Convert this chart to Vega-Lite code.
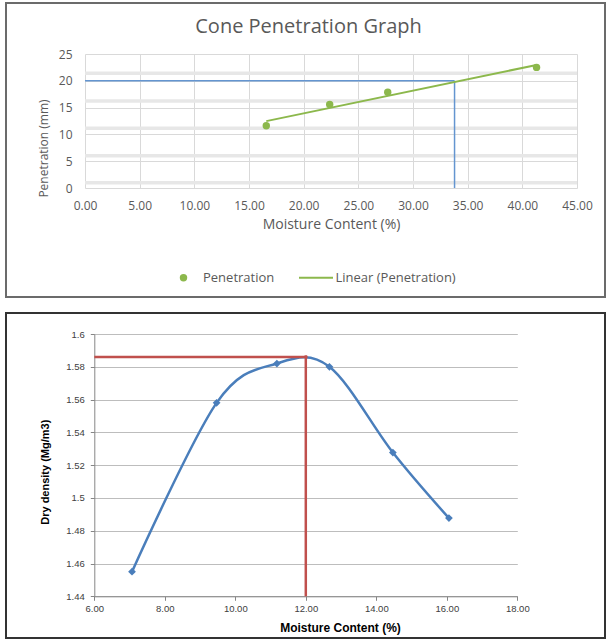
{
  "$schema": "https://vega.github.io/schema/vega-lite/v6.json",
  "padding": {"left": 5, "top": 2, "right": 0, "bottom": 0},
  "background": "white",
  "spacing": 14,
  "datasets": {
    "pen": [
      {"mc": 16.58, "pen": 11.6},
      {"mc": 22.38, "pen": 15.6},
      {"mc": 27.69, "pen": 17.85},
      {"mc": 41.3, "pen": 22.5}
    ],
    "penGuide": [
      {"mc": 0, "mc2": 33.8, "pen": 20, "pen2": 20},
      {"mc": 33.8, "mc2": 33.8, "pen": 0, "pen2": 20}
    ],
    "penBands": [
      {"mc": 0, "mc2": 45, "pen": 0.99},
      {"mc": 0, "mc2": 45, "pen": 6.02},
      {"mc": 0, "mc2": 45, "pen": 11.14},
      {"mc": 0, "mc2": 45, "pen": 16.23},
      {"mc": 0, "mc2": 45, "pen": 21.4}
    ],
    "dd": [
      {"mc": 7.07, "dd": 1.455},
      {"mc": 9.47, "dd": 1.558},
      {"mc": 11.18, "dd": 1.582},
      {"mc": 12.67, "dd": 1.58},
      {"mc": 14.47, "dd": 1.5277},
      {"mc": 16.06, "dd": 1.4877}
    ],
    "ddGuide": [
      {"mc": 6, "mc2": 12.05, "dd": 1.586, "dd2": 1.586},
      {"mc": 12, "mc2": 12, "dd": 1.44, "dd2": 1.587}
    ]
  },
  "vconcat": [
    {
      "width": 599,
      "height": 294,
      "view": {"stroke": "#6b6b6b", "strokeWidth": 2},
      "title": {"text": "Cone Penetration Graph", "offset": -34, "fontSize": 20, "font": "Open Sans", "fontWeight": "normal", "color": "#595959", "anchor": "middle", "frame": "group", "dx": 3},
      "resolve": {"axis": {"x": "independent"}},
      "layer": [
        {
          "data": {"name": "penBands"},
          "mark": {"type": "rule", "color": "#e7e7e7", "strokeWidth": 3.5},
          "encoding": {
            "x": {"field": "mc", "type": "quantitative", "scale": {"domain": [0, 45], "range": [79, 571], "nice": false, "zero": false}, "axis": null},
            "x2": {"field": "mc2"},
            "y": {"field": "pen", "type": "quantitative", "scale": {"domain": [0, 25], "range": [185, 51], "nice": false, "zero": false}}
          }
        },
        {
          "data": {"name": "penGuide"},
          "mark": {"type": "rule", "color": "#6495d0", "strokeWidth": 1.5},
          "encoding": {
            "x": {"field": "mc", "type": "quantitative", "scale": {"domain": [0, 45], "range": [79, 571], "nice": false, "zero": false}, "axis": null},
            "x2": {"field": "mc2"},
            "y": {"field": "pen", "type": "quantitative", "scale": {"domain": [0, 25], "range": [185, 51], "nice": false, "zero": false}},
            "y2": {"field": "pen2"}
          }
        },
        {
          "data": {"name": "pen"},
          "transform": [{"regression": "pen", "on": "mc"}],
          "mark": {"type": "line", "color": "#8CB84C", "strokeWidth": 2},
          "encoding": {
            "x": {"field": "mc", "type": "quantitative", "scale": {"domain": [0, 45], "range": [79, 571], "nice": false, "zero": false},
              "axis": {"orient": "top", "offset": -51, "grid": true, "gridColor": "#d9d9d9", "gridWidth": 1, "domain": false, "ticks": false, "labels": false, "title": null, "values": [0, 5, 10, 15, 20, 25, 30, 35, 40, 45]}},
            "y": {"field": "pen", "type": "quantitative", "scale": {"domain": [0, 25], "range": [185, 51], "nice": false, "zero": false}},
            "color": {"datum": "Linear (Penetration)", "type": "nominal",
              "scale": {"domain": ["Penetration", "Linear (Penetration)"], "range": ["#8CB84C", "#8CB84C"]},
              "legend": {
                "orient": "none", "legendX": 171, "legendY": 268, "direction": "horizontal", "title": null, "padding": 0,
                "labelFont": "Open Sans", "labelFontSize": 13, "labelColor": "#595959", "labelOffset": 13,
                "columnPadding": 19.5,
                "encode": {"symbols": {"update": {
                  "shape": {"signal": "datum.value === 'Penetration' ? 'circle' : 'stroke'"},
                  "size": {"signal": "datum.value === 'Penetration' ? 55 : 1156"},
                  "fill": {"signal": "datum.value === 'Penetration' ? '#8CB84C' : 'transparent'"},
                  "stroke": {"value": "#8CB84C"},
                  "strokeWidth": {"signal": "datum.value === 'Penetration' ? 0 : 2"},
                  "opacity": {"value": 1}
                }}}
              }
            }
          }
        },
        {
          "data": {"name": "pen"},
          "mark": {"type": "point", "filled": true, "size": 55, "opacity": 1},
          "encoding": {
            "x": {"field": "mc", "type": "quantitative", "scale": {"domain": [0, 45], "range": [79, 571], "nice": false, "zero": false},
              "axis": {"orient": "bottom", "offset": -109, "grid": false, "domain": false, "ticks": false, "values": [0, 5, 10, 15, 20, 25, 30, 35, 40, 45], "format": ".2f",
                "labelFont": "Open Sans", "labelFontSize": 12, "labelColor": "#595959", "labelPadding": 12, "labelFlush": false, "labelOverlap": false, "labelBound": false,
                "title": "Moisture Content (%)", "titleFont": "Open Sans", "titleFontSize": 14, "titleFontWeight": "normal", "titleColor": "#595959",
                "titleX": 325, "titleY": 36, "titleBaseline": "middle", "titleAlign": "center"}},
            "y": {"field": "pen", "type": "quantitative", "scale": {"domain": [0, 25], "range": [185, 51], "nice": false, "zero": false},
              "axis": {"orient": "left", "offset": -79, "grid": true, "gridColor": "#d9d9d9", "gridWidth": 1, "domain": false, "ticks": false, "values": [0, 5, 10, 15, 20, 25], "format": "d",
                "labelFont": "Open Sans", "labelFontSize": 12, "labelColor": "#595959", "labelPadding": 13,
                "title": "Penetration (mm)", "titleFont": "Open Sans", "titleFontSize": 12, "titleFontWeight": "normal", "titleColor": "#595959",
                "titleX": -41.5, "titleY": 145, "titleBaseline": "middle", "titleAlign": "center", "titleAngle": 270}},
            "color": {"datum": "Penetration", "type": "nominal"}
          }
        }
      ]
    },
    {
      "width": 599,
      "height": 325,
      "view": {"stroke": "#333333", "strokeWidth": 2},
      "layer": [
        {
          "data": {"name": "dd"},
          "mark": {"type": "line", "interpolate": "cardinal", "color": "#4A7EBB", "strokeWidth": 2.5},
          "encoding": {
            "x": {"field": "mc", "type": "quantitative", "scale": {"domain": [6, 18], "range": [88.3, 511.3], "nice": false, "zero": false},
              "axis": {"orient": "bottom", "offset": -41.7, "grid": false, "domain": true, "domainColor": "#868686", "ticks": true, "tickColor": "#868686", "tickSize": 4,
                "values": [6, 8, 10, 12, 14, 16, 18], "format": ".2f",
                "labelFont": "Liberation Sans", "labelFontSize": 9.5, "labelColor": "#404040", "labelPadding": 3, "labelFlush": false, "labelOverlap": false, "labelBound": false,
                "title": "Moisture Content (%)", "titleFont": "Liberation Sans", "titleFontSize": 12, "titleFontWeight": "bold", "titleColor": "#000000",
                "titleX": 334, "titleY": 30.7, "titleBaseline": "middle", "titleAlign": "center"}},
            "y": {"field": "dd", "type": "quantitative", "scale": {"domain": [1.44, 1.6], "range": [283.3, 21], "nice": false, "zero": false},
              "axis": {"orient": "left", "offset": -88.3, "grid": true, "gridColor": "#bdbdbd", "gridWidth": 1, "domain": true, "domainColor": "#868686", "ticks": true, "tickColor": "#868686", "tickSize": 4,
                "values": [1.44, 1.46, 1.48, 1.5, 1.52, 1.54, 1.56, 1.58, 1.6], "format": ".2~f",
                "labelFont": "Liberation Sans", "labelFontSize": 9.5, "labelColor": "#404040", "labelPadding": 6,
                "title": "Dry density (Mg/m3)", "titleFont": "Liberation Sans", "titleFontSize": 11, "titleFontWeight": "bold", "titleColor": "#000000",
                "titleX": -49.3, "titleY": 158.7, "titleBaseline": "middle", "titleAlign": "center", "titleAngle": 270}}
          }
        },
        {
          "data": {"name": "dd"},
          "mark": {"type": "point", "shape": "diamond", "filled": true, "size": 60, "color": "#4A7EBB", "opacity": 1},
          "encoding": {
            "x": {"field": "mc", "type": "quantitative", "scale": {"domain": [6, 18], "range": [88.3, 511.3], "nice": false, "zero": false}},
            "y": {"field": "dd", "type": "quantitative", "scale": {"domain": [1.44, 1.6], "range": [283.3, 21], "nice": false, "zero": false}}
          }
        },
        {
          "data": {"name": "ddGuide"},
          "mark": {"type": "rule", "color": "#C0504D", "strokeWidth": 2.5},
          "encoding": {
            "x": {"field": "mc", "type": "quantitative", "scale": {"domain": [6, 18], "range": [88.3, 511.3], "nice": false, "zero": false}},
            "x2": {"field": "mc2"},
            "y": {"field": "dd", "type": "quantitative", "scale": {"domain": [1.44, 1.6], "range": [283.3, 21], "nice": false, "zero": false}},
            "y2": {"field": "dd2"}
          }
        }
      ]
    }
  ]
}
